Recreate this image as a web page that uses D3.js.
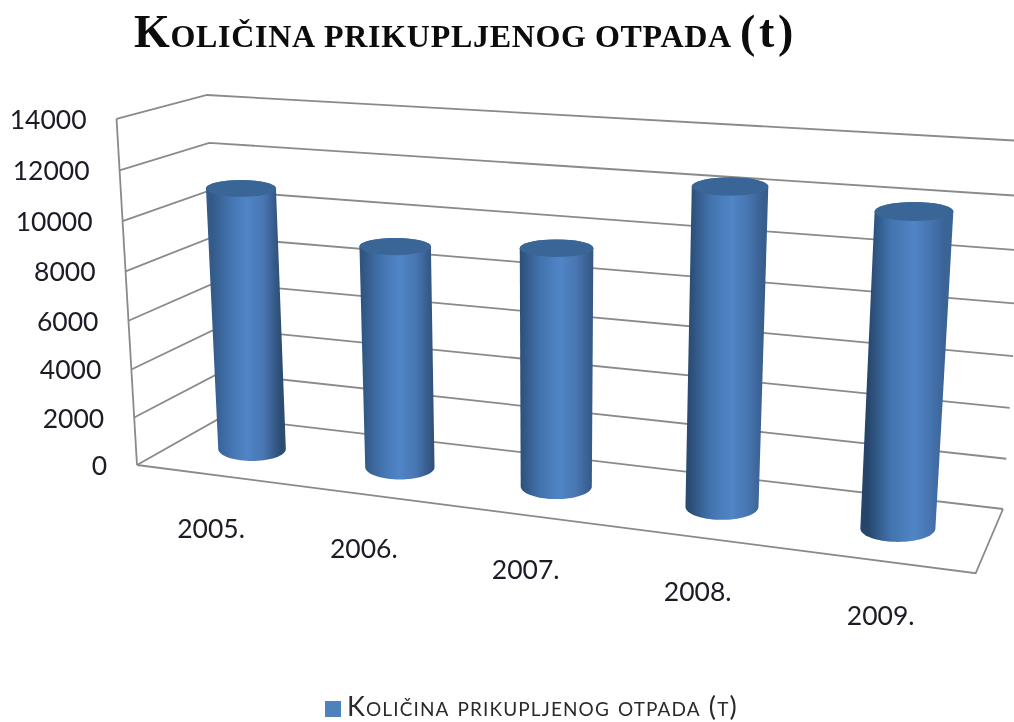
<!DOCTYPE html>
<html>
<head>
<meta charset="utf-8">
<script src="https://cdn.jsdelivr.net/npm/d3@7"></script>
<style>
  html, body { margin: 0; padding: 0; background: #fff; overflow: hidden; }
  svg { display: block; filter: blur(0.5px); }
</style>
</head>
<body>
<div id="container"></div>
<script>
const years = ["2005.", "2006.", "2007.", "2008.", "2009."];
const values = [10900, 9050, 9500, 12300, 11850];
const yTicks = [0, 2000, 4000, 6000, 8000, 10000, 12000, 14000];
const titleText = "Količina prikupljenog otpada (";
const titleUnit = "t";
const legendText = "Količina prikupljenog otpada (t)";

const width = 1014;
const height = 722;

const svg = d3.select("#container")
  .append("svg")
  .attr("width", width)
  .attr("height", height);

const u = d3.scaleBand().domain(years).range([0, 1]);
const v = d3.scaleLinear().domain([0, 14000]).range([0, 1]);

// Corners of the 3D box on screen, and perspective weights of its three edges
const origin = [222, 417];
const xEnd = [1003, 509];
const yEnd = [207, 95];
const zEnd = [137, 465];
const hx = 0.87, hy = 0.956, hz = 0.927;

const project = (a, b, c) => {
  const w = 1 + a * (hx - 1) + b * (hy - 1) + c * (hz - 1);
  const coord = i => (origin[i]
    + a * (hx * xEnd[i] - origin[i])
    + b * (hy * yEnd[i] - origin[i])
    + c * (hz * zEnd[i] - origin[i])) / w;
  return [coord(0), coord(1)];
};

const gridLine = d3.line();
const grid = svg.append("g")
  .attr("fill", "none")
  .attr("stroke", "#8a8a8a")
  .attr("stroke-width", 1.8);

yTicks.forEach(t => {
  grid.append("path")
    .attr("d", gridLine([project(0, v(t), 1), project(0, v(t), 0), project(1, v(t), 0)]));
});

// Floor edges and the front of the value axis
grid.append("path").attr("d", gridLine([project(0, 0, 1), project(1, 0, 1), project(1, 0, 0)]));
grid.append("path").attr("d", gridLine([project(0, 0, 1), project(0, 1, 1)]));

// Value labels
svg.append("g")
  .selectAll("text")
  .data(yTicks)
  .join("text")
  .attr("x", d => project(0, v(d), 1)[0] - 30)
  .attr("y", d => project(0, v(d), 1)[1] + 10)
  .attr("text-anchor", "end")
  .attr("font-family", "Lato")
  .attr("font-size", 26.5)
  .attr("fill", "#1c1c28")
  .text(d => d);

// Category labels
svg.append("g")
  .selectAll("text")
  .data(years)
  .join("text")
  .attr("x", d => project(u(d) + u.bandwidth() / 2, 0, 1)[0] + 1)
  .attr("y", d => project(u(d) + u.bandwidth() / 2, 0, 1)[1] + 64)
  .attr("text-anchor", "middle")
  .attr("font-family", "Lato")
  .attr("font-size", 26.5)
  .attr("fill", "#1c1c28")
  .text(d => d);

// Cylinders
const defs = svg.append("defs");
const shade = d3.scaleLinear().domain([0, 4]).range([0.5, 0.6]);
const edgeLeft = d3.scaleLinear().domain([0, 4]).range(["#335a88", "#26456b"]);
const edgeRight = d3.scaleLinear().domain([0, 4]).range(["#2c4c72", "#3a6496"]);
const barHalf = d3.scaleLinear().domain([0, 4]).range([0.235, 0.207]);

const ellipsePoints = (c, rx, ry) => d3.range(0, 72).map(i => {
  const t = i / 72 * 2 * Math.PI;
  return [c[0] + rx * Math.cos(t), c[1] + ry * Math.sin(t)];
});

years.forEach((year, i) => {
  const mid = u(year) + u.bandwidth() / 2;
  const half = u.bandwidth() * barHalf(i);
  const bottom = project(mid, 0, 0.5);
  const top = project(mid, v(values[i]), 0.5);
  const rxBottom = (project(mid + half, 0, 0.5)[0] - project(mid - half, 0, 0.5)[0]) / 2;
  const rxTop = (project(mid + half, v(values[i]), 0.5)[0] - project(mid - half, v(values[i]), 0.5)[0]) / 2;

  const hull = d3.polygonHull([
    ...ellipsePoints(bottom, rxBottom, rxBottom * 0.36),
    ...ellipsePoints(top, rxTop, rxTop * 0.24)
  ]);

  const gradient = defs.append("linearGradient")
    .attr("id", `bar-${i}`)
    .attr("gradientUnits", "userSpaceOnUse")
    .attr("x1", (bottom[0] + top[0]) / 2 - (rxBottom + rxTop) / 2)
    .attr("y1", (bottom[1] + top[1]) / 2)
    .attr("x2", (bottom[0] + top[0]) / 2 + (rxBottom + rxTop) / 2)
    .attr("y2", (bottom[1] + top[1]) / 2);
  gradient.append("stop").attr("offset", 0).attr("stop-color", edgeLeft(i));
  gradient.append("stop").attr("offset", shade(i) * 0.5).attr("stop-color", "#4273ae");
  gradient.append("stop").attr("offset", shade(i)).attr("stop-color", "#5085c6");
  gradient.append("stop").attr("offset", shade(i) + (1 - shade(i)) * 0.5).attr("stop-color", "#4876b2");
  gradient.append("stop").attr("offset", 1).attr("stop-color", edgeRight(i));

  svg.append("path")
    .attr("d", "M" + hull.join("L") + "Z")
    .attr("fill", `url(#bar-${i})`);

  svg.append("ellipse")
    .attr("cx", top[0])
    .attr("cy", top[1])
    .attr("rx", rxTop)
    .attr("ry", rxTop * 0.24)
    .attr("fill", "#3a6697");
});

// Title
const title = svg.append("text")
  .attr("x", 134)
  .attr("y", 47)
  .attr("font-family", "Liberation Serif")
  .attr("font-size", 46)
  .attr("font-weight", "bold")
  .attr("letter-spacing", 0.7)
  .attr("word-spacing", -4)
  .attr("fill", "#0c0c0c");
title.append("tspan").style("font-variant", "small-caps").text(titleText);
title.append("tspan").attr("dx", 3).text(titleUnit);
title.append("tspan").attr("dx", 3).text(")");

// Legend
svg.append("rect")
  .attr("x", 325)
  .attr("y", 701)
  .attr("width", 16)
  .attr("height", 16)
  .attr("fill", "#4f81bd");

svg.append("text")
  .attr("x", 347)
  .attr("y", 716)
  .attr("font-family", "Lato")
  .attr("font-size", 27)
  .attr("letter-spacing", 1.12)
  .attr("fill", "#2a2a2a")
  .style("font-variant", "small-caps")
  .text(legendText);
</script>
</body>
</html>
